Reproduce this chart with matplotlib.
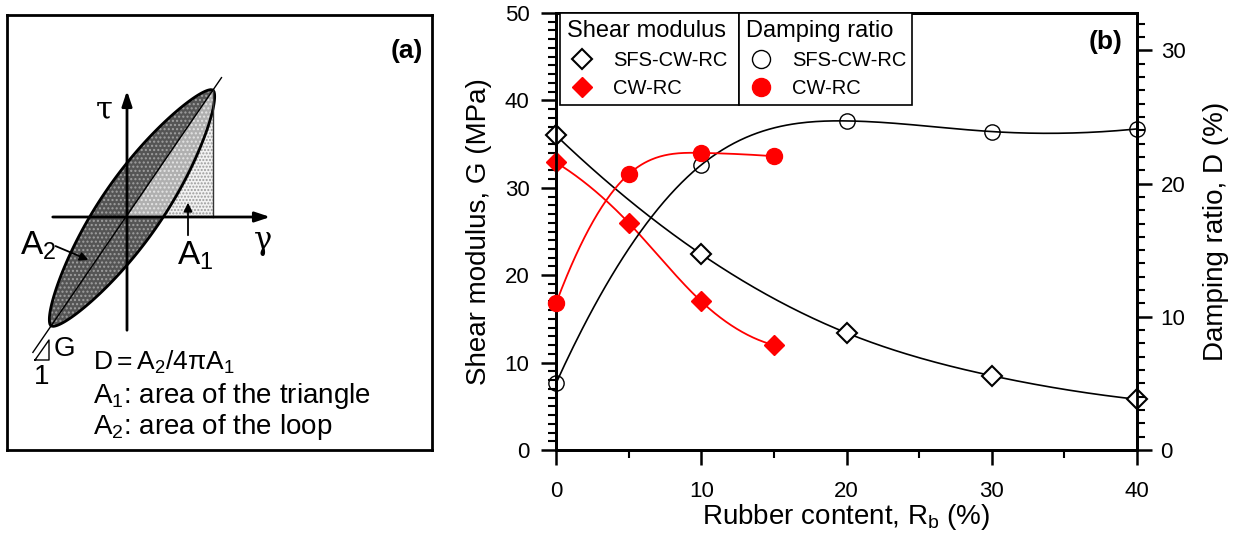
import matplotlib
matplotlib.use('Agg')
import matplotlib.pyplot as plt
import numpy as np
from matplotlib.patches import Polygon
from matplotlib.lines import Line2D
from matplotlib.ticker import MultipleLocator

plt.rcParams['font.family'] = ['Liberation Sans', 'DejaVu Sans']
plt.rcParams['mathtext.fontset'] = 'custom'
plt.rcParams['mathtext.rm'] = 'Liberation Sans'
plt.rcParams['mathtext.it'] = 'Liberation Sans:italic'
plt.rcParams['mathtext.bf'] = 'Liberation Sans:bold'
plt.rcParams['mathtext.default'] = 'regular'
plt.rcParams['hatch.linewidth'] = 1.0

# ---- data (panel b) ----
rubber_sfs = [0, 10, 20, 30, 40]
G_sfs = [36.0, 22.4, 13.4, 8.5, 5.8]
D_sfs = [5.0, 21.4, 24.7, 23.9, 24.1]

rubber_cw = [0, 5, 10, 15]
G_cw = [32.9, 26.0, 17.0, 12.0]
D_cw = [11.0, 20.7, 22.3, 22.05]


def smooth(x, y, n=200):
    # cubic spline (parabolic run-out ends) through the measured points, for the fitted line only
    x = np.asarray(x, float)
    y = np.asarray(y, float)
    k = len(x)
    h = np.diff(x)
    A = np.zeros((k, k))
    r = np.zeros(k)
    A[0, 0], A[0, 1] = 1, -1
    A[-1, -1], A[-1, -2] = 1, -1
    for i in range(1, k - 1):
        A[i, i - 1] = h[i - 1]
        A[i, i] = 2 * (h[i - 1] + h[i])
        A[i, i + 1] = h[i]
        r[i] = 6 * ((y[i + 1] - y[i]) / h[i] - (y[i] - y[i - 1]) / h[i - 1])
    m = np.linalg.solve(A, r)
    xs = np.linspace(x[0], x[-1], n)
    j = np.clip(np.searchsorted(x, xs) - 1, 0, k - 2)
    a = x[j + 1] - xs
    b = xs - x[j]
    hj = h[j]
    ys = (m[j] * a**3 + m[j + 1] * b**3) / (6 * hj) \
        + (y[j] / hj - m[j] * hj / 6) * a + (y[j + 1] / hj - m[j + 1] * hj / 6) * b
    return xs, ys


fig = plt.figure(figsize=(12.4, 5.41), dpi=100)

# ================= panel (a): schematic hysteresis loop =================
axa = fig.add_axes([7 / 1240, (541 - 450) / 541, 425 / 1240, 435 / 541])
axa.set_xlim(7, 432)
axa.set_ylim(450, 15)
axa.set_xticks([])
axa.set_yticks([])
for s in axa.spines.values():
    s.set_linewidth(2)

origin = np.array([127.0, 217.0])
tip0 = np.array([51.0, 326.0])
tip1 = np.array([213.0, 90.0])
half_w = 31.0

d = tip1 - tip0
L = np.hypot(*d)
d = d / L
nrm = np.array([-d[1], d[0]])
t = np.linspace(0, 1, 300)
w = half_w * np.sin(np.pi * t) ** 0.6
base = tip0[None, :] + t[:, None] * (tip1 - tip0)[None, :]
upper = base - w[:, None] * nrm
lower = base + w[:, None] * nrm
loop = np.vstack([upper, lower[::-1]])

tri = np.array([origin, [tip1[0], origin[1]], tip1])
axa.add_patch(Polygon(tri, closed=True, facecolor='#f2f2f2', edgecolor='#9a9a9a',
                      hatch='.....', lw=0, zorder=1))
axa.add_patch(Polygon(loop, closed=True, facecolor='#555555', edgecolor='#a0a0a0',
                      hatch='....', lw=0, zorder=2))
clip_tri = Polygon(tri, closed=True, transform=axa.transData)
light = Polygon(loop, closed=True, facecolor='#b0b0b0', edgecolor='#e4e4e4',
                hatch='....', lw=0, zorder=3)
axa.add_patch(light)
light.set_clip_path(clip_tri)
axa.add_patch(Polygon(loop, closed=True, fill=False, edgecolor='black', lw=2, zorder=4))
axa.plot([tip1[0], tip1[0]], [origin[1], tip1[1]], color='#333333', lw=1, zorder=4)

# diagonal (slope G)
ext0 = tip0 - d * 32
ext1 = tip1 + d * 15
axa.plot([ext0[0], ext1[0]], [ext0[1], ext1[1]], color='black', lw=1, zorder=5)

# axes arrows
axa.annotate('', xy=(origin[0], 88), xytext=(origin[0], 333),
             arrowprops=dict(arrowstyle='-|>,head_length=0.9,head_width=0.3', lw=2, color='black'),
             zorder=6)
axa.annotate('', xy=(273, origin[1]), xytext=(50, origin[1]),
             arrowprops=dict(arrowstyle='-|>,head_length=0.9,head_width=0.3', lw=2, color='black'),
             zorder=6)
axa.text(104, 110, 'τ', fontsize=22, family='DejaVu Serif', ha='center', va='center')
axa.text(263, 240, 'γ', fontsize=22, family='DejaVu Serif', ha='center', va='center')

# A1 / A2 pointers
axa.annotate('', xy=(188, 200), xytext=(188, 238),
             arrowprops=dict(arrowstyle='-|>,head_length=0.5,head_width=0.25', lw=1.3, color='black'),
             zorder=6)
axa.text(177, 256, r'$\mathregular{A_1}$', fontsize=24, ha='left', va='center')
axa.annotate('', xy=(91, 261), xytext=(53, 245),
             arrowprops=dict(arrowstyle='-|>,head_length=0.5,head_width=0.25', lw=1.3, color='black'),
             zorder=6)
axa.text(20, 246, r'$\mathregular{A_2}$', fontsize=24, ha='left', va='center')

# slope triangle
axa.plot([35, 49, 49, 35], [360, 360, 340, 360], color='black', lw=1)
axa.text(54, 349, 'G', fontsize=20, ha='left', va='center')
axa.text(42, 377, '1', fontsize=20, ha='center', va='center')

axa.text(93, 362, r'$\mathregular{D=A_2/4πA_1}$', fontsize=19, ha='left', va='center')
axa.text(93, 396, r'$\mathregular{A_1}$: area of the triangle', fontsize=20, ha='left', va='center')
axa.text(93, 427, r'$\mathregular{A_2}$: area of the loop', fontsize=20, ha='left', va='center')
axa.text(423, 51, '(a)', fontsize=19, fontweight='bold', ha='right', va='center')

# ================= panel (b) =================
ax = fig.add_axes([556 / 1240, (541 - 450) / 541, 581 / 1240, 437 / 541])
ax2 = ax.twinx()

xs, ys = smooth(rubber_sfs, G_sfs)
ax.plot(xs, ys, color='black', lw=1.2, clip_on=False)
xs, ys = smooth(rubber_cw, G_cw)
ax.plot(xs, ys, color='red', lw=1.3, clip_on=False)
ax.plot(rubber_sfs, G_sfs, ls='none', marker='D', ms=10, mfc='white', mec='black', mew=1.5,
        clip_on=False, zorder=5)
ax.plot(rubber_cw, G_cw, ls='none', marker='D', ms=10, mfc='red', mec='red', mew=1,
        clip_on=False, zorder=5)

xs, ys = smooth(rubber_sfs, D_sfs)
ax2.plot(xs, ys, color='black', lw=1.2, clip_on=False)
xs, ys = smooth(rubber_cw, D_cw)
ax2.plot(xs, ys, color='red', lw=1.3, clip_on=False)
ax2.plot(rubber_sfs, D_sfs, ls='none', marker='o', ms=11, mfc='none', mec='black', mew=1,
         clip_on=False, zorder=5)
ax2.plot(rubber_cw, D_cw, ls='none', marker='o', ms=11.5, mfc='red', mec='red', mew=1,
         clip_on=False, zorder=5)

ax.set_xlim(0, 40)
ax.set_ylim(0, 50)
ax2.set_ylim(0, 32.8)
ax.xaxis.set_major_locator(MultipleLocator(10))
ax.xaxis.set_minor_locator(MultipleLocator(5))
ax.yaxis.set_major_locator(MultipleLocator(10))
ax.yaxis.set_minor_locator(MultipleLocator(1))
ax2.yaxis.set_major_locator(MultipleLocator(10))
ax2.yaxis.set_minor_locator(MultipleLocator(1))

for a in (ax, ax2):
    for s in a.spines.values():
        s.set_linewidth(2)
    a.tick_params(which='major', direction='out', length=11, width=1.8, labelsize=16)
    a.tick_params(which='minor', direction='out', length=6, width=1.5)
ax.tick_params(axis='x', pad=11)
ax.tick_params(axis='y', pad=8)
ax2.tick_params(axis='y', pad=6)
ax.tick_params(top=False, right=False)

ax.set_xlabel(r'Rubber content, $\mathregular{R_b}$ (%)', fontsize=20)
ax.set_ylabel('Shear modulus, G (MPa)', fontsize=20)
ax2.set_ylabel('Damping ratio, D (%)', fontsize=20)
ax.xaxis.set_label_coords(0.5, -0.12)
ax.yaxis.set_label_coords(-0.11, 0.5)
ax2.yaxis.set_label_coords(1.113, 0.5)

ax2.text(0.975, 0.934, '(b)', transform=ax.transAxes, fontsize=19, fontweight='bold',
         ha='right', va='center')

# two-part legend
h_g1 = Line2D([], [], ls='none', marker='D', ms=10, mfc='white', mec='black', mew=1.5)
h_g2 = Line2D([], [], ls='none', marker='D', ms=10, mfc='red', mec='red')
h_d1 = Line2D([], [], ls='none', marker='o', ms=13, mfc='white', mec='black', mew=1)
h_d2 = Line2D([], [], ls='none', marker='o', ms=13, mfc='red', mec='red')
leg_kw = dict(loc='upper left', mode='expand', bbox_transform=ax.transAxes, borderaxespad=0,
              fancybox=False, edgecolor='black', framealpha=1, fontsize=14.5, title_fontsize=17,
              alignment='left', borderpad=0.35, handlelength=1.5, handletextpad=0.8,
              labelspacing=0.45)
leg1 = ax2.legend([h_g1, h_g2], ['SFS-CW-RC', 'CW-RC'], title='Shear modulus',
                  bbox_to_anchor=(4 / 581, 0, 179 / 581, 1.0), **leg_kw)
leg1.get_frame().set_linewidth(1.2)
ax2.add_artist(leg1)
leg2 = ax2.legend([h_d1, h_d2], ['SFS-CW-RC', 'CW-RC'], title='Damping ratio',
                  bbox_to_anchor=(183 / 581, 0, 173 / 581, 1.0), **leg_kw)
leg2.get_frame().set_linewidth(1.2)

fig.savefig('out.png', dpi=100)
